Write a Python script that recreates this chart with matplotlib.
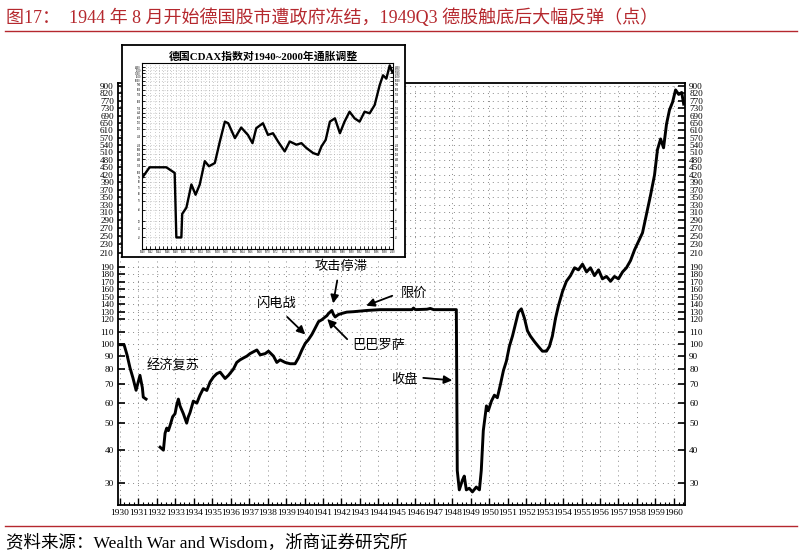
import matplotlib
matplotlib.use("Agg")
import numpy as np
import matplotlib.pyplot as plt
from matplotlib.lines import Line2D
from matplotlib.ticker import FixedLocator, NullLocator, MultipleLocator

plt.rcParams['font.family'] = ['Liberation Serif', 'Noto Sans CJK SC']
CJK = ['Liberation Serif', 'Noto Sans CJK SC']
RED = '#B5282E'

# 1930-1931 section
years_a = [1930.0, 1930.23, 1930.39, 1930.55, 1930.71, 1930.88, 1931.09, 1931.22, 1931.27, 1931.42]
vals_a = [99.5, 99.5, 91, 81, 74, 66.6, 75.7, 68, 63, 62]

# 1932-1960 section
years_b = [1932.18, 1932.36, 1932.45, 1932.54, 1932.63, 1932.72, 1932.86, 1932.99, 1933.08, 1933.17,
           1933.26, 1933.44, 1933.62, 1933.71, 1933.80, 1933.98, 1934.17, 1934.34, 1934.52, 1934.71,
           1934.89, 1935.07, 1935.25, 1935.43, 1935.70, 1935.88, 1936.15, 1936.33, 1936.51, 1936.69,
           1936.88, 1937.05, 1937.42, 1937.60, 1937.87, 1938.05, 1938.32, 1938.50, 1938.68, 1938.95,
           1939.22, 1939.49, 1939.67, 1939.86, 1940.04, 1940.21, 1940.40, 1940.58, 1940.76, 1940.94,
           1941.12, 1941.21, 1941.30, 1941.48, 1941.57, 1941.66, 1941.84, 1942.02, 1942.29, 1942.65,
           1943.38, 1944.10, 1945.01, 1945.82, 1945.90, 1946.00, 1946.63, 1946.81, 1946.99, 1948.07,
           1948.22, 1948.27, 1948.38, 1948.55, 1948.65, 1948.76, 1948.92, 1949.09, 1949.30, 1949.47,
           1949.57, 1949.68, 1949.85, 1949.95, 1950.12, 1950.28, 1950.44, 1950.60, 1950.77, 1950.93,
           1951.09, 1951.26, 1951.42, 1951.58, 1951.74, 1951.91, 1952.07, 1952.23, 1952.45, 1952.66,
           1952.88, 1953.10, 1953.26, 1953.42, 1953.59, 1953.75, 1953.97, 1954.18, 1954.40, 1954.62,
           1954.83, 1955.05, 1955.27, 1955.48, 1955.70, 1955.92, 1956.13, 1956.35, 1956.57, 1956.78,
           1957.00, 1957.22, 1957.43, 1957.65, 1957.87, 1958.08, 1958.30, 1958.52, 1958.73, 1958.95,
           1959.11, 1959.28, 1959.44, 1959.60, 1959.76, 1959.93, 1960.09, 1960.26, 1960.42, 1960.53]
vals_b = [41, 40, 46, 48, 47, 49, 53, 54.5, 59, 62,
          58.5, 54.5, 50, 53, 55, 61, 60, 64, 67.5, 66.5,
          71.4, 74.6, 76.8, 77.9, 73.6, 75.7, 80, 85, 87, 88.5,
          90, 92, 95, 91, 92, 94, 90, 85, 87, 85,
          84, 84, 88.5, 95, 100.6, 103.6, 108, 113, 118, 119.5,
          123, 124.7, 128, 132, 126.5, 123, 126.5, 128, 130, 130.5,
          132, 133, 133, 133, 135, 133, 133.5, 134.5, 133, 133,
          133, 33.5, 28.3, 30.8, 31.9, 28.3, 28.7, 27.8, 29, 28.3,
          33.5, 47, 58.5, 56, 61, 64, 62.7, 69.5, 79, 86,
          98, 106.6, 116, 130, 134, 121, 111, 106.6, 102, 98,
          94, 94, 98, 106.6, 121, 138, 157, 171, 178, 189,
          186, 194, 183, 189, 178, 186, 174, 177, 171, 177,
          174, 183, 189, 199, 217, 236, 258, 306, 354, 420,
          520, 566, 528, 644, 720, 764, 855, 811, 826, 752]

y_ticks = [30, 40, 50, 60, 70, 80, 90, 100, 110, 120, 130, 140, 150, 160, 170, 180, 190,
           210, 230, 250, 270, 290, 310, 330, 350, 370, 390, 420, 450, 480, 510, 540, 570,
           610, 650, 690, 730, 770, 820, 900]
x_years = list(range(1930, 1961))

# axis calibration of the original chart: relative height of each tick (px above the 30 line)
tick_height = [0, 33, 60, 80, 99, 114, 127, 139, 151, 164, 171, 179, 186, 194, 201, 209, 216,
               230, 239, 247, 255, 263, 271, 278, 286, 293, 301, 308, 316, 323, 331, 338, 345,
               353, 360, 367, 375, 382, 390, 397]

# inset: CDAX inflation adjusted 1940-2000
inset_years = [1940.0, 1941.8, 1945.8, 1947.8, 1948.2, 1949.4, 1949.6, 1950.6, 1951.8, 1952.8,
               1953.8, 1955.0, 1956.0, 1957.4, 1958.6, 1959.8, 1960.6, 1962.2, 1963.7, 1965.3,
               1966.4, 1967.3, 1968.9, 1970.1, 1971.3, 1972.5, 1974.1, 1975.3, 1976.9, 1978.1,
               1979.3, 1980.9, 1982.1, 1982.9, 1983.9, 1984.9, 1986.1, 1987.3, 1988.4, 1989.6,
               1990.8, 1992.0, 1993.2, 1994.4, 1995.6, 1996.8, 1997.6, 1998.4, 1999.2, 1999.8]
inset_vals = [88, 115, 115, 100, 20, 20, 36, 42, 75, 58,
              75, 134, 118, 128, 219, 359, 345, 238, 310, 258,
              210, 305, 345, 258, 269, 219, 171, 219, 202, 210,
              186, 164, 157, 194, 228, 359, 390, 269, 359, 460,
              390, 359, 460, 442, 543, 891, 1140, 1050, 1460, 1240]
inset_ticks = [20, 25, 30, 40, 50, 60, 70, 80, 90, 100, 120, 140, 160, 180, 200, 250, 300,
               350, 400, 450, 500, 600, 700, 800, 900, 1000, 1100, 1200, 1300, 1400]

LK = np.log10(np.array(y_ticks, dtype=float))
HP = np.array(tick_height, dtype=float)
SLOPE = (HP[-1] - HP[17]) / (LK[-1] - LK[17])


def fwd(v):
    lv = np.log10(np.clip(np.asarray(v, dtype=float), 1e-6, None))
    out = np.interp(lv, LK, HP)
    out = np.where(lv < LK[0], HP[0] + (lv - LK[0]) * SLOPE, out)
    out = np.where(lv > LK[-1], HP[-1] + (lv - LK[-1]) * SLOPE, out)
    return out


def inv(p):
    p = np.asarray(p, dtype=float)
    lv = np.interp(p, HP, LK)
    lv = np.where(p < HP[0], LK[0] + (p - HP[0]) / SLOPE, lv)
    lv = np.where(p > HP[-1], LK[-1] + (p - HP[-1]) / SLOPE, lv)
    return 10 ** lv


fig = plt.figure(figsize=(8.02, 5.56), dpi=100)

# main chart
ax = fig.add_axes([0.1471, 0.0917, 0.707, 0.759])
ax.plot(years_a, vals_a, color='black', lw=2.1, solid_joinstyle='round')
ax.plot(years_b, vals_b, color='black', lw=2.1, solid_joinstyle='round')
ax.set_yscale('function', functions=(fwd, inv))
ax.set_ylim(24.8, 924)
ax.set_xlim(1929.9, 1960.6)

ax.yaxis.set_major_locator(FixedLocator(y_ticks))
ax.yaxis.set_minor_locator(NullLocator())
ax.set_yticklabels([str(v) for v in y_ticks])
ax.set_xticks(x_years)
ax.set_xticklabels([str(y) for y in x_years])
ax.xaxis.set_minor_locator(MultipleLocator(0.25))

ax.tick_params(axis='y', which='major', direction='in', length=5, width=1.2,
               left=True, right=True, labelleft=True, labelright=True, labelsize=6.6, pad=3)
ax.tick_params(axis='x', which='major', direction='in', length=5, width=1.0, labelsize=6.8, pad=3)
ax.tick_params(axis='x', which='minor', direction='in', length=2.5, width=0.8)
for lbl in ax.get_xticklabels():
    lbl.set_fontstretch('condensed')

for s in ax.spines.values():
    s.set_linewidth(1.3)

ax.grid(True, which='major', linestyle=(0, (1, 4)), color='#888888', linewidth=0.7)

# annotations
txt_kw = dict(fontsize=9.5, family=CJK, ha='center', va='center')
arr = dict(arrowstyle='-|>', color='black', lw=1.3, mutation_scale=12, shrinkA=0, shrinkB=0)
ax.text(1932.88, 82.4, '经济复苏', **txt_kw)
ax.text(1938.52, 140, '闪电战', **txt_kw)
ax.annotate('', xy=(1940.04, 108), xytext=(1939.06, 123), arrowprops=arr)
ax.text(1941.99, 191, '攻击停滞', **txt_kw)
ax.annotate('', xy=(1941.55, 141), xytext=(1941.77, 172), arrowprops=arr)
ax.text(1944.0, 98.7, '巴巴罗萨', **txt_kw)
ax.annotate('', xy=(1941.23, 120), xytext=(1942.31, 104), arrowprops=arr)
ax.text(1945.94, 154, '限价', **txt_kw)
ax.annotate('', xy=(1943.34, 138), xytext=(1944.75, 151.6), arrowprops=arr)
ax.text(1945.4, 73, '收盘', **txt_kw)
ax.annotate('', xy=(1948.0, 72.4), xytext=(1946.43, 74), arrowprops=arr)

# inset box
box = fig.add_axes([0.1521, 0.5378, 0.3529, 0.3813])
box.set_xticks([])
box.set_yticks([])
box.set_facecolor('white')
for s in box.spines.values():
    s.set_linewidth(1.3)
box.text(0.5, 0.945, '德国CDAX指数对1940~2000年通胀调整', transform=box.transAxes,
         ha='center', va='center', fontsize=7.8, family=CJK, fontweight='bold')

ins = fig.add_axes([0.1771, 0.5522, 0.313, 0.3345])
ins.plot(inset_years, inset_vals, color='black', lw=1.7)
ins.set_yscale('log')
ins.set_ylim(15, 1550)
ins.set_xlim(1940, 2000)
ins.set_xticks(range(1940, 2001, 2))
ins.set_xticklabels([str(y) for y in range(1940, 2001, 2)])
ins.yaxis.set_major_locator(FixedLocator(inset_ticks))
ins.yaxis.set_minor_locator(NullLocator())
ins.set_yticklabels([str(v) for v in inset_ticks])
ins.tick_params(axis='both', which='both', direction='in', length=2, width=0.6,
                left=True, right=True, labelleft=True, labelright=True, labelsize=2.0, pad=1)
ins.xaxis.set_minor_locator(MultipleLocator(1))
ins.grid(True, which='both', linestyle=(0, (1, 3)), color='#999999', linewidth=0.5)
for s in ins.spines.values():
    s.set_linewidth(0.8)

# title, source and red rules
fig.text(0.008, 0.969, '图17：  1944 年 8 月开始德国股市遭政府冻结，1949Q3 德股触底后大幅反弹（点）',
         color=RED, fontsize=13.0, family=CJK, ha='left', va='center')
fig.add_artist(Line2D([0.006, 0.994], [0.944, 0.944], color=RED, lw=1.0))
fig.add_artist(Line2D([0.006, 0.994], [0.054, 0.054], color=RED, lw=1.0))
fig.text(0.008, 0.023, '资料来源：Wealth War and Wisdom，浙商证券研究所',
         color='black', fontsize=12.6, family=CJK, ha='left', va='center')

fig.savefig('out.png', dpi=100)
